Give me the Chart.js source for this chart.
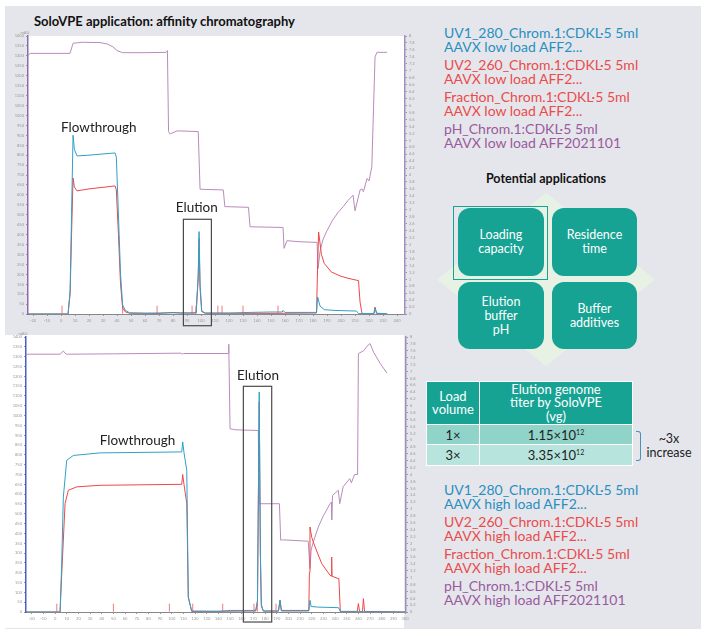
<!DOCTYPE html>
<html>
<head>
<meta charset="utf-8">
<script src="https://cdn.jsdelivr.net/npm/chart.js@4.4.1/dist/chart.umd.min.js"></script>
<style>
  body { margin: 0; background: #fff; font-family: Lato, "Open Sans", sans-serif; }
  #page { position: relative; width: 716px; height: 641px; overflow: hidden; }
  .abs { position: absolute; }
  #panel { left: 5px; top: 6px; width: 696px; height: 623px; background: #e5e6eb; }
  #title { left: 34px; top: 13px; font-weight: bold; font-size: 13px; color: #111; }
  #botBg { left: 5px; top: 335px; width: 399px; height: 293px; background: #fff; }
  .legend { font-size: 14px; line-height: 14px; }
  .legend div { margin-bottom: 4px; white-space: nowrap; }
  .c-blue { color: #2a8fbf; }
  .c-red { color: #ea4b4b; }
  .c-purple { color: #9a5a9e; }
  #appsTitle { left: 446px; width: 200px; top: 171px; text-align: center; font-weight: bold; font-size: 12.5px; color: #111; }
  #diamond { left: 437px; top: 193px; width: 218px; height: 173px; background: #e7f2e5;
             clip-path: polygon(50% 0, 100% 50%, 50% 100%, 0 50%); }
  .box { position: absolute; background: #17a394; color: #fff; border-radius: 12px; font-size: 12.5px; line-height: 14px;
         display: flex; align-items: center; justify-content: center; text-align: center; }
  #hl { left: 453px; top: 206px; width: 93px; height: 72px; border: 1.5px solid #17a394; }
  table { border-collapse: collapse; font-size: 13px; }
  td { border: 1.5px solid #fff; text-align: center; padding: 0; color: #222; }
  th { border: 1.5px solid #fff; background: #17a394; color: #fff; font-weight: normal; line-height: 13.5px; padding: 0; }
  sup { font-size: 7px; }
  #brace { left: 636px; top: 431px; width: 4px; height: 28px; border: 1px solid #4a8fc0; border-left: none; border-radius: 0 3px 3px 0; }
  #incr { left: 640px; top: 432px; width: 58px; text-align: center; font-size: 12.5px; line-height: 13.5px; color: #222; }
</style>
</head>
<body>
<div id="page">
  <div id="panel" class="abs"></div>
  <div id="title" class="abs">SoloVPE application: affinity chromatography</div>
  <div class="abs" style="left:0;top:28px;"><canvas id="topChart" width="420" height="300"></canvas></div>
  <div id="botBg" class="abs"></div>
  <div class="abs" style="left:0;top:330px;"><canvas id="botChart" width="420" height="300"></canvas></div>

  <div class="abs legend" style="left:444px;top:26px;">
    <div class="c-blue">UV1_280_Chrom.1:CDKL·5 5ml<br>AAVX low load AFF2...</div>
    <div class="c-red">UV2_260_Chrom.1:CDKL·5 5ml<br>AAVX low load AFF2...</div>
    <div class="c-red">Fraction_Chrom.1:CDKL·5 5ml<br>AAVX low load AFF2...</div>
    <div class="c-purple">pH_Chrom.1:CDKL·5 5ml<br>AAVX low load AFF2021101</div>
  </div>

  <div id="appsTitle" class="abs">Potential applications</div>
  <div id="diamond" class="abs"></div>
  <div class="box" style="left:458px;top:208px;width:86px;height:68px;">Loading<br>capacity</div>
  <div class="box" style="left:552px;top:208px;width:85px;height:68px;">Residence<br>time</div>
  <div class="box" style="left:458px;top:282px;width:86px;height:67px;">Elution<br>buffer<br>pH</div>
  <div class="box" style="left:552px;top:282px;width:85px;height:67px;">Buffer<br>additives</div>
  <div id="hl" class="abs"></div>

  <table class="abs" style="left:426px;top:381px;width:207px;">
    <tr style="height:43px;"><th style="width:52px;">Load<br>volume</th><th>Elution genome<br>titer by SoloVPE<br>(vg)</th></tr>
    <tr style="height:20px;background:#8fd3c9;"><td>1×</td><td>1.15×10<sup>12</sup></td></tr>
    <tr style="height:21px;background:#b7e4dd;"><td>3×</td><td>3.35×10<sup>12</sup></td></tr>
  </table>
  <div id="brace" class="abs"></div>
  <div id="incr" class="abs">~3x<br>increase</div>

  <div class="abs legend" style="left:444px;top:483px;">
    <div class="c-blue">UV1_280_Chrom.1:CDKL·5 5ml<br>AAVX high load AFF2...</div>
    <div class="c-red">UV2_260_Chrom.1:CDKL·5 5ml<br>AAVX high load AFF2...</div>
    <div class="c-red">Fraction_Chrom.1:CDKL·5 5ml<br>AAVX high load AFF2...</div>
    <div class="c-purple">pH_Chrom.1:CDKL·5 5ml<br>AAVX high load AFF2021101</div>
  </div>
</div>

<script>
// ---- data: low load run (top) ----
const topUv1 = [[-23.6,0],[5,0],[6.5,120],[7.5,500],[8.6,900],[9.5,830],[11.4,796],[20,800],[30,806],[38.6,811],[39.5,790],[41,500],[42.5,200],[44,45],[46,18],[49,6],[60,4],[80,6],[90,5],[96.5,6],[98,200],[98.6,415],[99.3,150],[100.5,15],[103,5],[120,5],[135,8],[150,10],[158,10],[158.6,18],[160,8],[182.5,8],[183.3,86],[185,40],[188,22],[195,18],[205,16],[211,15],[212.5,2],[223.5,2],[224.3,30],[225.5,4],[233,1]];
const topUv2 = [[-23.6,0],[5,0],[6.5,100],[7.5,400],[8.6,685],[9.5,640],[11.4,620],[20,630],[30,638],[38.6,645],[39.5,625],[41,400],[42.5,150],[44,30],[46,10],[49,4],[70,3],[80,8],[85,5],[96.5,5],[98,180],[98.6,380],[99.3,130],[100.5,12],[103,4],[150,3],[182.5,5],[183.3,250],[184,413],[186,300],[188,255],[193,212],[200,190],[205,180],[210,172],[212.5,168],[213.6,60],[215,2],[223.5,2],[224.3,35],[225.3,3],[233,0]];
const topPh = [[-23.6,7.45],[-22,7.5],[6.4,7.5],[8.6,7.79],[15,7.82],[27.9,7.81],[33,7.77],[37,7.69],[40,7.58],[44,7.52],[60,7.52],[75,7.53],[76,7.58],[76.8,5.25],[78,5.18],[80,5.22],[83,5.27],[98,5.25],[99.3,3.59],[115.9,3.57],[117,3.09],[133.9,3.07],[135,2.51],[158.6,2.49],[159.3,1.89],[161.4,2.11],[170,2.08],[182.9,2.06],[183.6,1.31],[185,1.8],[187,2.13],[190,2.4],[194,2.7],[198,2.93],[201.6,3.09],[205,3.27],[208.6,3.42],[210,2.97],[213.6,3.57],[215,3.6],[216,3.52],[218.6,3.9],[220,3.83],[222,4.24],[224.3,7.4],[225.7,7.53],[232.9,7.53]];
const topFractions = [0.7, 44, 68.6, 93.6, 96.4, 112, 115, 130, 155];

// ---- data: high load run (bottom) ----
const botUv1 = [[-24.9,0],[4.3,0],[5.7,246],[7.1,585],[10,772],[15.7,797],[38.6,810],[108.6,815],[109.4,866],[110.5,812],[112.9,721],[114.2,76],[117.1,5],[140,3],[150,8],[172,8],[173.5,60],[175,1120],[176,300],[176.8,40],[178.5,5],[191.5,5],[192.8,60],[194,5],[217.5,5],[218.5,60],[219.5,28],[225,25],[243,22],[244.5,2],[300,0]];
const botUv2 = [[-24.9,0],[4.3,0],[5.7,190],[8.6,553],[11.4,620],[18.6,637],[38.6,645],[108.6,650],[109.4,700],[110.5,650],[112.9,553],[114.2,76],[117.1,3],[172,5],[173.5,50],[175,1070],[176,280],[176.8,30],[178.5,5],[191.5,5],[192.8,60],[194,8],[217.5,8],[218,200],[218.5,433],[220,380],[222.9,331],[228.6,246],[235.7,187],[236.8,183],[237.1,280],[237.4,182],[242.8,170],[243.3,168],[244.5,3],[259,3],[260,43],[261,3],[263.5,3],[264.3,68],[265.3,3],[300,0]];
const botPh = [[-24.9,7.5],[4.3,7.5],[7.1,7.59],[9.5,7.5],[50,7.51],[108,7.53],[109,7.5],[110,7.52],[148.5,7.52],[148.9,7.79],[150,5.33],[155,5.3],[174.2,5.28],[175,3.15],[192.3,3.15],[193.4,2.09],[195,2.1],[217,2.06],[218.5,1.26],[219.5,1.8],[221,2.0],[225.6,2.47],[230,2.8],[235.7,3.15],[236.9,3.2],[237.1,2.68],[237.8,3.39],[242.8,3.54],[244,3.15],[246.9,3.64],[252.6,3.88],[254,3.76],[256.7,4.0],[259.3,4.0],[260,7.52],[264.5,7.6],[267.3,7.73],[270,7.81],[273,7.56],[278.7,7.23],[284.5,6.95]];
const botFractions = [1.5, 50, 98, 118, 143.7, 170.5, 173.4, 189.4];

// labels and elution boxes, in axis units
const topNotes = [{ text: "Flowthrough", x: 27, y: 937 }, { text: "Elution", x: 97, y: 534 }];
const topBox = { x0: 87.4, x1: 107.4, y0: -59, y1: 477 };
const botNotes = [{ text: "Flowthrough", x: 70.7, y: 874 }, { text: "Elution", x: 174, y: 1205 }];
const botBox = { x0: 161.4, x1: 185.7, y0: -51, y1: 1149 };

const BLUE = "#2fa0c8", RED = "#ec4848", PURPLE = "#b98cbc";

const toXY = arr => arr.map(p => ({ x: p[0], y: p[1] }));

const notesPlugin = {
  id: "notes",
  beforeDraw(chart, args, opts) {
    if (!opts.fillArea) return;
    const { ctx, chartArea: a } = chart;
    ctx.save();
    ctx.fillStyle = "#fff";
    ctx.fillRect(a.left, a.top, a.right - a.left, a.bottom - a.top);
    ctx.restore();
  },
  afterDatasetsDraw(chart, args, opts) {
    const { ctx, scales } = chart;
    const x = scales.x, y = scales.y;
    ctx.save();
    const b = opts.box;
    if (b) {
      ctx.strokeStyle = "#4a4a4a";
      ctx.lineWidth = 1.2;
      const l = x.getPixelForValue(b.x0), r = x.getPixelForValue(b.x1);
      const t = y.getPixelForValue(b.y1), bt = y.getPixelForValue(b.y0);
      ctx.strokeRect(l, t, r - l, bt - t);
    }
    ctx.fillStyle = "#222";
    ctx.font = "13.5px Lato";
    ctx.textAlign = "center";
    ctx.textBaseline = "middle";
    (opts.labels || []).forEach(n => {
      ctx.fillText(n.text, x.getPixelForValue(n.x), y.getPixelForValue(n.y));
    });
    ctx.font = "4px Lato";
    ctx.fillStyle = "#999";
    ctx.fillText("mAU", chart.chartArea.left - 3, chart.chartArea.top - 3);
    ctx.restore();
  }
};

function makeChart(id, uv1, uv2, ph, fractions, xMin, xMax, leftW, rightW, topPad, xH, leftColor, labels, box, fillArea) {
  const tickFont = { size: 4, family: "Lato" };
  const plain = v => String(Math.round(v * 10) / 10);
  return new Chart(document.getElementById(id), {
    type: "line",
    data: {
      datasets: [
        { label: "UV1_280", data: toXY(uv1), borderColor: BLUE, borderWidth: 1, pointRadius: 0, yAxisID: "y" },
        { label: "UV2_260", data: toXY(uv2), borderColor: RED, borderWidth: 1, pointRadius: 0, yAxisID: "y" },
        { label: "Fraction", data: fractions.map(v => ({ x: v, y: 22 })), showLine: false, pointStyle: "line",
          rotation: 90, pointRadius: 4, borderColor: "#f27a7a", borderWidth: 1, yAxisID: "y" },
        { label: "pH", data: toXY(ph), borderColor: PURPLE, borderWidth: 1, pointRadius: 0, yAxisID: "y2" }
      ]
    },
    options: {
      responsive: false,
      animation: false,
      layout: { padding: { top: topPad, left: 0, right: 0, bottom: 0 } },
      plugins: { legend: { display: false }, tooltip: { enabled: false },
                 notes: { labels: labels, box: box, fillArea: fillArea } },
      scales: {
        x: {
          type: "linear", min: xMin, max: xMax,
          afterFit: s => { s.height = xH; },
          border: { color: "#888", width: 1 },
          grid: { drawOnChartArea: false, tickLength: 2, color: "#999" },
          ticks: { stepSize: 10, includeBounds: false, autoSkip: false, maxRotation: 0, font: tickFont, color: "#999", padding: 2, callback: plain }
        },
        y: {
          position: "left", min: 0, max: 1400,
          afterFit: s => { s.width = leftW; },
          border: { color: leftColor, width: 1.5 },
          grid: { drawOnChartArea: false, tickLength: 2, color: "#999" },
          ticks: { stepSize: 50, autoSkip: false, font: tickFont, color: "#999", padding: 2, callback: plain }
        },
        y2: {
          position: "right", min: 0, max: 8,
          afterFit: s => { s.width = rightW; },
          border: { color: "#a58cc4", width: 1.5 },
          grid: { drawOnChartArea: false, tickLength: 2, color: "#999" },
          ticks: { stepSize: 0.2, autoSkip: false, font: tickFont, color: "#999", padding: 2, callback: plain }
        }
      }
    },
    plugins: [notesPlugin]
  });
}

makeChart("topChart", topUv1, topUv2, topPh, topFractions, -23.6, 245.7, 28, 15, 8, 14, "#8e6bb0", topNotes, topBox, true);
makeChart("botChart", botUv1, botUv2, botPh, botFractions, -24.9, 300.8, 26, 14, 7, 18, "#4a5fc1", botNotes, botBox, false);
</script>
</body>
</html>
